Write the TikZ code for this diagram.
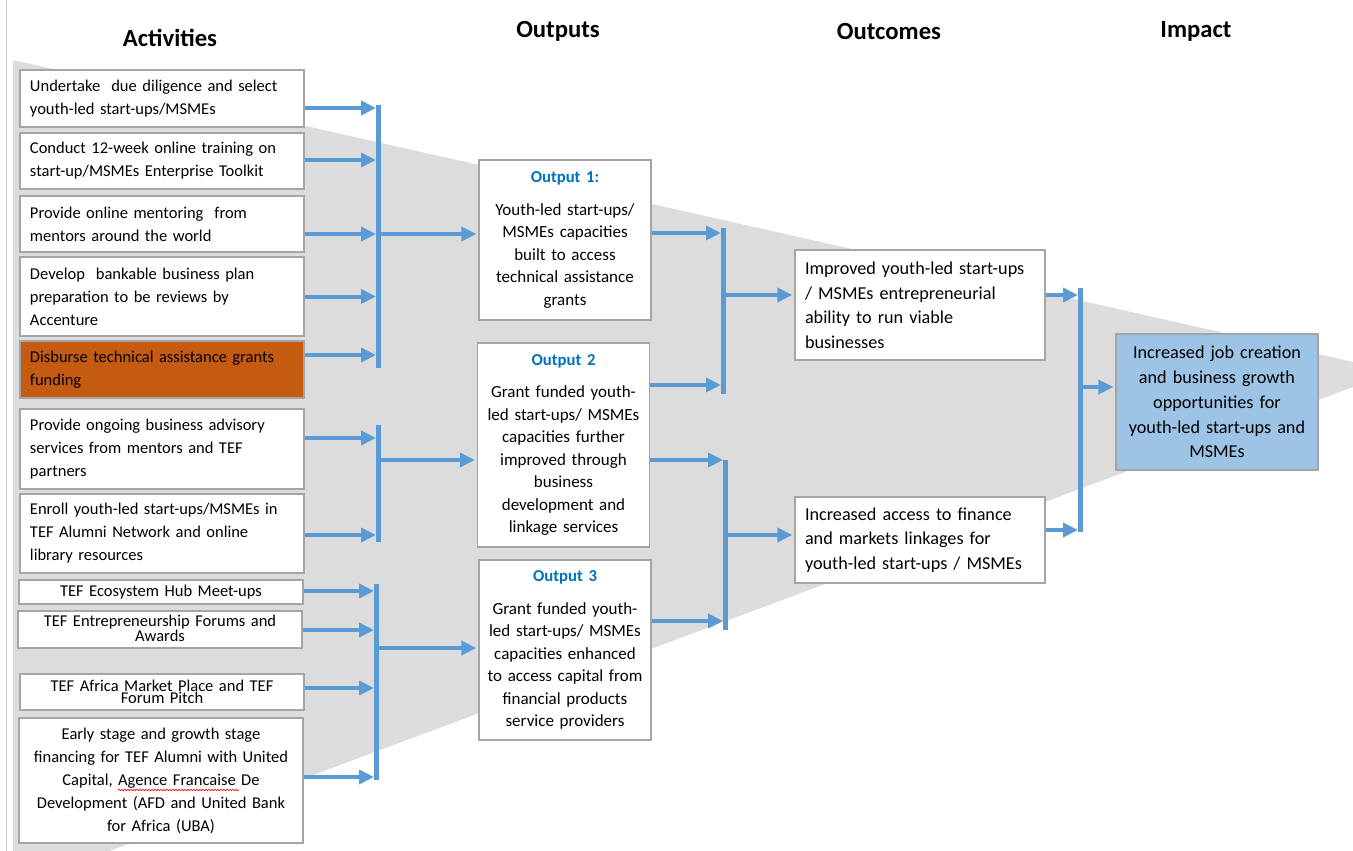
\documentclass[tikz,border=0pt]{standalone}
\usepackage{fontspec}
\setmainfont{Carlito}
\usetikzlibrary{arrows.meta,calc,decorations.pathmorphing}
\definecolor{arrblue}{HTML}{5B9BD5}
\definecolor{boxgray}{HTML}{A5A5A5}
\definecolor{wedgegray}{HTML}{DCDCDC}
\definecolor{orangebox}{HTML}{C55A11}
\definecolor{impactblue}{HTML}{9DC3E6}
\definecolor{titleblue}{HTML}{0070C0}
\tikzset{
  box/.style={draw=boxgray, line width=1.3pt, fill=white, inner xsep=10pt, inner ysep=2pt},
  act/.style={box, text width=264pt, align=left, font=\fontsize{16.5}{23}\selectfont},
  actc/.style={act, align=center},
  outbox/.style={box, inner xsep=5pt, text width=162pt, align=center, font=\fontsize{17}{22.5}\selectfont},
  outcome/.style={box, text width=230pt, align=left, font=\fontsize{18.2}{24.5}\selectfont},
  impactbox/.style={box, inner xsep=5pt, fill=impactblue, text width=192pt, align=center, font=\fontsize{18.2}{24.8}\selectfont},
  heading/.style={font=\fontsize{24.7}{28}\selectfont\bfseries},
  arr/.style={draw=arrblue, line width=4pt, shorten >=2pt, -{Triangle[length=15pt,width=14pt]}},
  bar/.style={draw=arrblue, line width=5pt}
}
\newcommand{\otl}[1]{\textcolor{titleblue}{\fontsize{16.7}{20}\selectfont\bfseries #1}}
\begin{document}
\begin{tikzpicture}[x=1pt,y=-1pt]
\useasboundingbox (0,0) rectangle (1353,851);
\fill[white] (0,0) rectangle (1353,851);
\begin{scope}
  \clip (0,0) rectangle (1353,851);
  \fill[wedgegray] (13,60) -- (1353,362) -- (1353,387) -- (13,887) -- cycle;
\end{scope}
\draw[gray!35, line width=1pt] (6,0) -- (6,851);

% headings
\node[heading] (hact) at (170,38) {Activities};
\node[heading] (hout) at (558,31) {Outputs};
\node[heading] (hoc) at (889,31) {Outcomes};
\node[heading] (himp) at (1196,31) {Impact};

% activities
\node[act, minimum height=57pt] (a1) at (162,98.5) {Undertake\ \ due diligence and select\\youth-led start-ups/MSMEs};
\node[act, minimum height=56pt] (a2) at (162,161) {Conduct 12-week online training on\\start-up/MSMEs Enterprise Toolkit};
\node[act, minimum height=56pt] (a3) at (162,224) {Provide online mentoring\ \ from\\mentors around the world};
\node[act, minimum height=79pt] (a4) at (162,296.5) {Develop\ \ bankable business plan\\preparation to be reviews by\\Accenture};
\node[act, fill=orangebox, minimum height=57pt] (a5) at (162,369.5) {Disburse technical assistance grants\\funding};
\node[act, minimum height=80pt] (a6) at (162,449) {Provide ongoing business advisory\\services from mentors and TEF\\partners};
\node[act, minimum height=79pt] (a7) at (162,533.5) {Enroll youth-led start-ups/MSMEs in\\TEF Alumni Network and online\\library resources};
\node[actc, minimum height=24pt, inner ysep=0pt] (a8) at (161,592) {TEF Ecosystem Hub Meet-ups};
\node[actc, minimum height=37pt, inner ysep=0pt, font=\fontsize{16.5}{11.5}\selectfont] (a9) at (160,629.5) {TEF Entrepreneurship Forums and\\Awards\vphantom{g}\\[9pt]};
\node[actc, minimum height=36pt, inner ysep=0pt, font=\fontsize{16.5}{11}\selectfont] (a10) at (162,692) {TEF Africa Market Place and TEF\\Forum Pitch\\[12pt]};
\node[actc, minimum height=125pt] (a11) at (161,780.5) {Early stage and growth stage\\financing for TEF Alumni with United\\Capital, Agence Francaise De\\Development (AFD and United Bank\\for Africa (UBA)};
\draw[red, line width=0.6pt, decorate, decoration={snake, amplitude=0.8pt, segment length=3pt}] (118,790) -- (239,790);

% outputs
\node[outbox, minimum height=160pt] (o1) at (565,240) {\otl{Output 1:}\\[10pt]Youth-led start-ups/\\MSMEs capacities\\built to access\\technical assistance\\grants};
\node[outbox, minimum height=204pt] (o2) at (563.5,445) {\otl{Output 2}\\[10pt]Grant funded youth-\\led start-ups/ MSMEs\\capacities further\\improved through\\business\\development and\\linkage services};
\node[outbox, minimum height=180pt] (o3) at (565,650) {\otl{Output 3}\\[10pt]Grant funded youth-\\led start-ups/ MSMEs\\capacities enhanced\\to access capital from\\financial products\\service providers};

% outcomes
\node[outcome, minimum height=110pt] (oc1) at (920,305) {Improved youth-led start-ups\\/ MSMEs entrepreneurial\\ability to run viable\\businesses};
\node[outcome, minimum height=86pt] (oc2) at (920,540) {Increased access to finance\\and markets linkages for\\youth-led start-ups / MSMEs};

% impact
\node[impactbox, minimum height=136pt] (imp) at (1217,402) {Increased job creation\\and business growth\\opportunities for\\youth-led start-ups and\\MSMEs};

% bar coordinates
\coordinate (b1t) at (378,105); \coordinate (b1b) at (378,368);
\coordinate (b2t) at (378,425); \coordinate (b2b) at (378,542);
\coordinate (b3t) at (376,584); \coordinate (b3b) at (376,780);
\coordinate (b4t) at (723,228); \coordinate (b4b) at (723,394);
\coordinate (b5t) at (725,460); \coordinate (b5b) at (725,630);
\coordinate (b6t) at (1080,288); \coordinate (b6b) at (1080,532);

% arrow start/end points on nodes
\coordinate (a1o) at ([yshift=-9.5pt]a1.east);
\coordinate (a2o) at ([yshift=1pt]a2.east);
\coordinate (a3o) at ([yshift=-10pt]a3.east);
\coordinate (a4o) at (a4.east);
\coordinate (a5o) at ([yshift=14.5pt]a5.east);
\coordinate (a6o) at ([yshift=11pt]a6.east);
\coordinate (a7o) at ([yshift=-1.5pt]a7.east);
\coordinate (a8o) at ([yshift=1pt]a8.east);
\coordinate (a9o) at ([yshift=-0.5pt]a9.east);
\coordinate (a10o) at ([yshift=4pt]a10.east);
\coordinate (a11o) at ([yshift=3.5pt]a11.east);
\coordinate (o1i) at ([yshift=6pt]o1.west);
\coordinate (o2i) at ([yshift=-15pt]o2.west);
\coordinate (o3i) at ([yshift=2pt]o3.west);
\coordinate (o1o) at ([yshift=7pt]o1.east);
\coordinate (o2oa) at ([yshift=60pt]o2.east);
\coordinate (o2ob) at ([yshift=-15pt]o2.east);
\coordinate (o3o) at ([yshift=29pt]o3.east);
\coordinate (oc1i) at ([yshift=10pt]oc1.west);
\coordinate (oc2i) at ([yshift=5pt]oc2.west);
\coordinate (oc1o) at ([yshift=10pt]oc1.east);
\coordinate (oc2o) at ([yshift=10pt]oc2.east);
\coordinate (impi) at ([yshift=15pt]imp.west);

% bars
\foreach \b in {1,...,6} \draw[bar] (b\b t) -- (b\b b);

% group 1
\foreach \s in {a1o,a2o,a3o,a4o,a5o} \draw[arr] (\s) -- (\s -| b1t);
\draw[arr] (o1i -| b1t) -- (o1i);
% group 2
\foreach \s in {a6o,a7o} \draw[arr] (\s) -- (\s -| b2t);
\draw[arr] (o2i -| b2t) -- (o2i);
% group 3
\foreach \s in {a8o,a9o,a10o,a11o} \draw[arr] (\s) -- (\s -| b3t);
\draw[arr] (o3i -| b3t) -- (o3i);
% group 4
\foreach \s in {o1o,o2oa} \draw[arr] (\s) -- (\s -| b4t);
\draw[arr] (oc1i -| b4t) -- (oc1i);
% group 5
\foreach \s in {o2ob,o3o} \draw[arr] (\s) -- (\s -| b5t);
\draw[arr] (oc2i -| b5t) -- (oc2i);
% group 6
\foreach \s in {oc1o,oc2o} \draw[arr] (\s) -- (\s -| b6t);
\draw[arr] (impi -| b6t) -- (impi);
\end{tikzpicture}
\end{document}
